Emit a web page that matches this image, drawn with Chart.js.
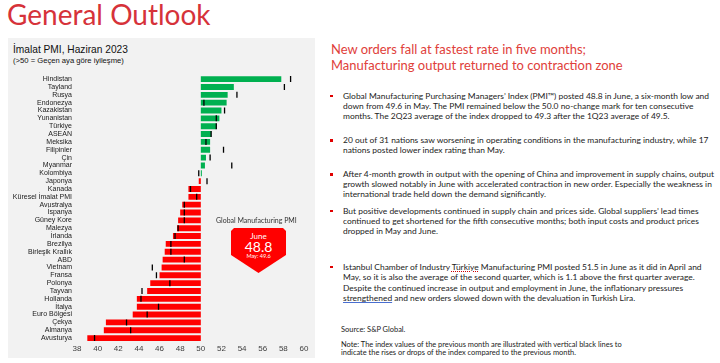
<!DOCTYPE html>
<html>
<head>
<meta charset="utf-8">
<script src="https://cdn.jsdelivr.net/npm/chart.js@4/dist/chart.umd.min.js"></script>
<style>
  html, body { margin: 0; padding: 0; background: #fff; }
  body { width: 720px; height: 363px; position: relative; overflow: hidden; font-family: Lato, "Open Sans", sans-serif; }
  .abs { position: absolute; white-space: nowrap; }
  #title { left: 7px; top: -4px; font-size: 28px; color: #d6323a; line-height: 36px; }
  #panel { left: 8px; top: 38px; width: 307px; height: 320px; background: #f2f2f2; }
  #ctitle { left: 13px; top: 43px; font-family: "Liberation Sans", Arial, sans-serif; font-size: 12px; line-height: 14px; color: #111; }
  #csub { left: 13px; top: 56px; font-family: "Liberation Sans", Arial, sans-serif; font-size: 8px; line-height: 10px; color: #111; }
  #chartBox { position: absolute; left: 8px; top: 66px; width: 307px; height: 292px; }
  #badgeLbl { left: 216px; top: 215px; font-size: 8px; line-height: 10px; color: #333; }
  #badge { position: absolute; left: 231px; top: 228px; width: 55px; height: 45px; background: #ff0000;
    clip-path: polygon(3px 0, 52px 0, 55px 3px, 55px 27px, 27.5px 45px, 0 27px, 0 3px); color: #fff; text-align: center; }
  #badge .m { position: absolute; left: 0; right: 0; top: 3px; font-size: 8px; line-height: 10px; }
  #badge .v { position: absolute; left: 0; right: 0; top: 11px; font-size: 14px; line-height: 16px; }
  #badge .p { position: absolute; left: 0; right: 0; top: 25px; font-size: 5.5px; line-height: 7px; }
  #head { left: 331px; top: 40.7px; color: #e0403a; font-size: 15px; line-height: 16.7px; }
  .para { left: 343px; color: #222; font-size: 8.2px; line-height: 10px; }
  .bul { position: absolute; left: 330px; width: 2.5px; height: 2.5px; background: #e00000; }
  .small { left: 341px; color: #222; font-size: 7px; line-height: 8.3px; }
  .sp1 { text-decoration: underline dotted #c00; }
  .sp2 { text-decoration: underline #4a6fd0; }
</style>
</head>
<body>
<div id="title" class="abs">General Outlook</div>
<div id="panel" class="abs"></div>
<div id="ctitle" class="abs" data-w="115">İmalat PMI, Haziran 2023</div>
<div id="csub" class="abs" data-w="111">(&gt;50 = Geçen aya göre iyileşme)</div>
<div id="chartBox"><canvas id="pmiChart"></canvas></div>
<div id="badgeLbl" class="abs" data-w="81">Global Manufacturing PMI</div>
<div id="badge"><div class="m">June</div><div class="v">48.8</div><div class="p">May: 49.6</div></div>

<div id="head" class="abs" data-w="292">New orders fall at fastest rate in five months;<br>Manufacturing output returned to contraction zone</div>

<div class="bul" style="top:94.5px"></div>
<div class="para abs" style="top:90.7px" data-w="366">Global Manufacturing Purchasing Managers’ Index (PMI™) posted 48.8 in June, a six-month low and<br>down from 49.6 in May. The PMI remained below the 50.0 no-change mark for ten consecutive<br>months. The 2Q23 average of the index dropped to 49.3 after the 1Q23 average of 49.5.</div>

<div class="bul" style="top:139px"></div>
<div class="para abs" style="top:135px">20 out of 31 nations saw worsening in operating conditions in the manufacturing industry, while 17<br>nations posted lower index rating than May.</div>

<div class="bul" style="top:173px"></div>
<div class="para abs" style="top:169px">After 4-month growth in output with the opening of China and improvement in supply chains, output<br>growth slowed notably in June with accelerated contraction in new order. Especially the weakness in<br>international trade held down the demand significantly.</div>

<div class="bul" style="top:209.5px"></div>
<div class="para abs" style="top:205.7px">But positive developments continued in supply chain and prices side. Global suppliers’ lead times<br>continued to get shortened for the fifth consecutive months; both input costs and product prices<br>dropped in May and June.</div>

<div class="bul" style="top:265.5px"></div>
<div class="para abs" style="top:261.7px;line-height:10.5px">Istanbul Chamber of Industry <span class="sp1">Türkiye</span> Manufacturing PMI posted 51.5 in June as it did in April and<br>May, so it is also the average of the second quarter, which is 1.1 above the first quarter average.<br>Despite the continued increase in output and employment in June, the inflationary pressures<br><span class="sp2">strengthened</span> and new orders slowed down with the devaluation in Turkish Lira.</div>

<div class="small abs" style="top:325.5px">Source: S&amp;P Global.</div>
<div class="small abs" style="top:340.5px" data-w="281">Note: The index values of the previous month are illustrated with vertical black lines to<br>indicate the rises or drops of the index compared to the previous month.</div>

<script>
// ---- data ----
const countries = ["Hindistan", "Tayland", "Rusya", "Endonezya", "Kazakistan", "Yunanistan", "Türkiye", "ASEAN",
  "Meksika", "Filipinler", "Çin", "Myanmar", "Kolombiya", "Japonya", "Kanada", "Küresel İmalat PMI",
  "Avustralya", "İspanya", "Güney Kore", "Malezya", "İrlanda", "Brezilya", "Birleşik Krallık", "ABD",
  "Vietnam", "Fransa", "Polonya", "Tayvan", "Hollanda", "İtalya", "Euro Bölgesi", "Çekya", "Almanya", "Avusturya"];
const june = [57.8, 53.2, 52.6, 52.5, 52.0, 51.8, 51.5, 51.0,
  50.9, 50.9, 50.5, 50.4, 50.1, 49.8, 48.8, 48.8,
  48.2, 48.0, 47.8, 47.7, 47.3, 46.6, 46.5, 46.3,
  46.2, 46.0, 45.1, 44.8, 43.8, 43.8, 43.4, 40.8, 40.6, 39.0];
const may = [58.7, 58.1, 53.5, 50.3, 52.3, 51.5, 51.5, 51.0,
  50.5, 52.2, 50.9, 53.0, 49.8, 50.6, 49.0, 49.6,
  48.4, 48.4, 48.4, 47.8, 47.5, 47.1, 47.1, 48.4,
  45.3, 45.7, 47.0, 44.3, 44.2, 45.9, 44.8, 42.8, 43.2, 39.7];
const xTicks = [38, 40, 42, 44, 46, 48, 50, 52, 54, 56, 58, 60];
const baseLine = 50;

// fit some text blocks to their measured widths
document.querySelectorAll("[data-w]").forEach(function (el) {
  const fs = parseFloat(getComputedStyle(el).fontSize);
  const w = el.getBoundingClientRect().width;
  el.style.fontSize = (fs * parseFloat(el.dataset.w) / w) + "px";
});
// same size for all body paragraphs as the first one
const paraSize = document.querySelector(".para[data-w]").style.fontSize;
document.querySelectorAll(".para").forEach(function (el) { el.style.fontSize = paraSize; });
const smallSize = document.querySelector(".small[data-w]").style.fontSize;
document.querySelectorAll(".small").forEach(function (el) { el.style.fontSize = smallSize; });

/* ================= PMI bar chart ================= */
const ctx = document.getElementById("pmiChart");

new Chart(ctx, {
  type: "bar",
  data: {
    labels: countries,
    datasets: [
      {
        type: "line",
        label: "May",
        data: countries.map(function (c, i) { return { x: may[i], y: c }; }),
        showLine: false,
        pointStyle: "line",
        rotation: 90,
        pointRadius: 3,
        pointHoverRadius: 3,
        borderColor: "#000",
        pointBorderWidth: 1.3,
        order: 0,
      },
      {
        label: "June",
        data: june.map(function (v) { return [baseLine, v]; }),
        backgroundColor: june.map(function (v) { return v >= baseLine ? "#00b050" : "#ff0000"; }),
        categoryPercentage: 1,
        barPercentage: 0.75,
        borderSkipped: false,
        order: 1,
      },
    ],
  },
  options: {
    indexAxis: "y",
    responsive: true,
    maintainAspectRatio: false,
    animation: false,
    devicePixelRatio: 1,
    layout: { padding: { top: 4, right: 11, bottom: 0, left: 0 } },
    plugins: {
      legend: { display: false },
      tooltip: { enabled: false },
    },
    scales: {
      x: {
        type: "linear",
        min: xTicks[0],
        max: xTicks[xTicks.length - 1],
        afterBuildTicks: function (scale) {
          scale.ticks = xTicks.map(function (v) { return { value: v }; });
        },
        afterFit: function (scale) { scale.height = 16; },
        grid: { display: false, drawTicks: false },
        border: { display: false },
        ticks: {
          padding: 2,
          color: "#404040",
          font: { family: "Liberation Sans", size: 8 },
        },
      },
      y: {
        afterFit: function (scale) { scale.width = 69; },
        grid: { display: false, drawTicks: false },
        border: { display: false },
        ticks: {
          padding: 5,
          autoSkip: false,
          color: "#1a1a1a",
          font: { family: "Liberation Sans", size: 7 },
        },
      },
    },
  },
});
</script>
</body>
</html>
